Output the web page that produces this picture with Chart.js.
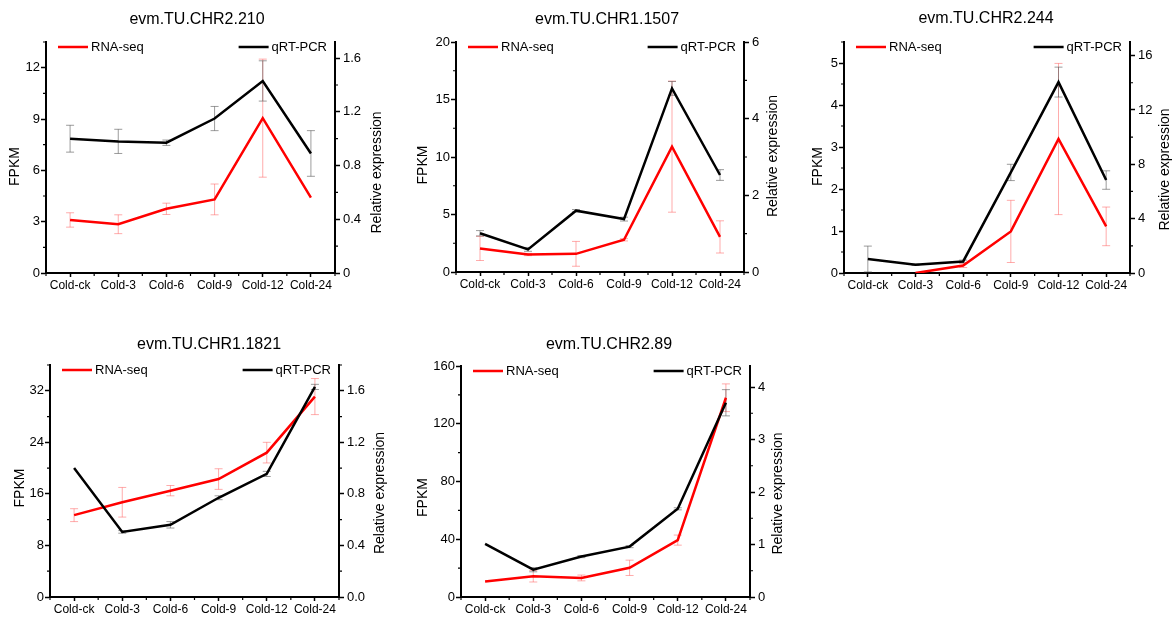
<!DOCTYPE html>
<html lang="en">
<head>
<meta charset="UTF-8" />
<title>RNA-seq vs qRT-PCR under cold stress</title>
<script src="https://cdn.jsdelivr.net/npm/chart.js"></script>
<style>
  body { margin: 0; background: #fff; }
  #wrap { position: relative; width: 1174px; height: 617px; overflow: hidden; }
  #wrap canvas { position: absolute; }
</style>
</head>
<body>
<div id="wrap"></div>
<script>
const timePoints = ['Cold-ck', 'Cold-3', 'Cold-6', 'Cold-9', 'Cold-12', 'Cold-24'];

// RNA-seq FPKM (mean and error) and qRT-PCR relative expression (mean and error)
const fpkm210 = [3.1, 2.85, 3.75, 4.3, 9.05, 4.4];
const fpkmErr210 = [0.42, 0.55, 0.33, 0.9, 3.45, 0];
const rel210 = [1.0, 0.98, 0.97, 1.15, 1.43, 0.89];
const relErr210 = [0.1, 0.09, 0.02, 0.09, 0.15, 0.17];

const fpkm1507 = [2.05, 1.52, 1.58, 2.8, 10.9, 3.05];
const fpkmErr1507 = [1.05, 0.1, 1.08, 0.1, 5.7, 1.4];
const rel1507 = [1.01, 0.59, 1.6, 1.38, 4.79, 2.53];
const relErr1507 = [0.07, 0.05, 0.03, 0.05, 0.18, 0.14];

const fpkm244 = [null, 0, 0.18, 0.99, 3.19, 1.11];
const fpkmErr244 = [0, 0, 0.05, 0.74, 1.8, 0.46];
const rel244 = [1.03, 0.61, 0.85, 7.4, 14.05, 6.84];
const relErr244 = [0.95, 0.05, 0.1, 0.6, 1.1, 0.68];

const fpkm1821 = [12.7, 14.7, 16.5, 18.3, 22.4, 31.1];
const fpkmErr1821 = [1.0, 2.3, 0.8, 1.6, 1.6, 2.8];
const rel1821 = [1.0, 0.505, 0.56, 0.77, 0.955, 1.63];
const relErr1821 = [0, 0.01, 0.025, 0.015, 0.02, 0.02];

const fpkm89 = [10.7, 14.4, 13.2, 20.2, 39.4, 138];
const fpkmErr89 = [0, 4, 2, 5.3, 3.5, 9.6];
const rel89 = [1.01, 0.52, 0.77, 0.96, 1.68, 3.7];
const relErr89 = [0, 0.04, 0.02, 0.02, 0.02, 0.25];

const panels = [
  { name: 'evm.TU.CHR2.210', rna: fpkm210, rnaErr: fpkmErr210, qrt: rel210, qrtErr: relErr210,
    leftMax: 13.5, leftStep: 3, rightMax: 1.72, rightStep: 0.4, rightFixed: null },
  { name: 'evm.TU.CHR1.1507', rna: fpkm1507, rnaErr: fpkmErr1507, qrt: rel1507, qrtErr: relErr1507,
    leftMax: 20, leftStep: 5, rightMax: 6, rightStep: 2, rightFixed: null },
  { name: 'evm.TU.CHR2.244', rna: fpkm244, rnaErr: fpkmErr244, qrt: rel244, qrtErr: relErr244,
    leftMax: 5.5, leftStep: 1, rightMax: 17, rightStep: 4, rightFixed: null },
  { name: 'evm.TU.CHR1.1821', rna: fpkm1821, rnaErr: fpkmErr1821, qrt: rel1821, qrtErr: relErr1821,
    leftMax: 36, leftStep: 8, rightMax: 1.8, rightStep: 0.4, rightFixed: 1 },
  { name: 'evm.TU.CHR2.89', rna: fpkm89, rnaErr: fpkmErr89, qrt: rel89, qrtErr: relErr89,
    leftMax: 160, leftStep: 40, rightMax: 4.4, rightStep: 1, rightFixed: null }
];

// plot box of each panel on the page, title centre, axis title offsets
const boxes = [
  { L: 46,  R: 335,  T: 42,  B: 273, tx: 197, ty: 20,  lOff: 31, rOff: 42, lDy: 9,  rDy: 15 },
  { L: 456, R: 744,  T: 42,  B: 272, tx: 607, ty: 20,  lOff: 33, rOff: 29, lDy: 8,  rDy: -1 },
  { L: 844, R: 1130, T: 42,  B: 273, tx: 986, ty: 19,  lOff: 26, rOff: 35, lDy: 9,  rDy: 12 },
  { L: 50,  R: 339,  T: 365, B: 597, tx: 209, ty: 345, lOff: 30, rOff: 41, lDy: 7,  rDy: 12 },
  { L: 461, R: 750,  T: 366, B: 597, tx: 609, ty: 345, lOff: 38, rOff: 28, lDy: 16, rDy: 12 }
];

Chart.defaults.font.family = "'Liberation Sans', Arial, sans-serif";
Chart.defaults.color = '#000';

const WL = 60, HX = 30, TOP = 42;

// error bars, minor ticks, inner legend and axis titles
const panelDecor = {
  id: 'panelDecor',
  beforeDatasetsDraw(chart) {
    const ctx = chart.ctx;
    const xs = chart.scales.x;
    chart.data.datasets.forEach(ds => {
      const ys = chart.scales[ds.yAxisID];
      ds.data.forEach((v, j) => {
        const e = ds.errors[j];
        if (v == null || !e) return;
        const x = xs.getPixelForValue(j);
        const yLo = ys.getPixelForValue(Math.max(0, v - e));
        const yHi = ys.getPixelForValue(v + e);
        ctx.save();
        ctx.strokeStyle = ds.errColor;
        ctx.lineWidth = 1;
        ctx.beginPath();
        ctx.moveTo(x, yLo); ctx.lineTo(x, yHi);
        ctx.moveTo(x - 4, yLo); ctx.lineTo(x + 4, yLo);
        ctx.moveTo(x - 4, yHi); ctx.lineTo(x + 4, yHi);
        ctx.stroke();
        ctx.restore();
      });
    });
  },
  afterDraw(chart, args, opts) {
    const ctx = chart.ctx;
    const a = chart.chartArea;
    const xs = chart.scales.x;
    ctx.save();
    ctx.strokeStyle = '#000';
    ctx.lineWidth = 1.2;
    ctx.beginPath();
    const n = timePoints.length;
    for (let j = 0; j <= n; j++) {
      let px;
      if (j === 0) px = a.left;
      else if (j === n) px = a.right;
      else px = (xs.getPixelForValue(j - 1) + xs.getPixelForValue(j)) / 2;
      ctx.moveTo(px, a.bottom); ctx.lineTo(px, a.bottom + 3);
    }
    ['y', 'y1'].forEach(id => {
      const s = chart.scales[id];
      const step = s.options.ticks.stepSize;
      for (let v = step / 2; v <= s.max + 1e-9; v += step) {
        const py = s.getPixelForValue(v);
        if (id === 'y') { ctx.moveTo(a.left - 3, py); ctx.lineTo(a.left, py); }
        else { ctx.moveTo(a.right, py); ctx.lineTo(a.right + 3, py); }
      }
    });
    ctx.stroke();

    // legend inside the plot
    const ly = a.top + 5;
    ctx.font = "13px 'Liberation Sans', Arial, sans-serif";
    ctx.textBaseline = 'middle';
    ctx.lineWidth = 2.5;
    const [d0, d1] = chart.data.datasets;
    ctx.strokeStyle = d0.borderColor;
    ctx.beginPath(); ctx.moveTo(a.left + 12, ly); ctx.lineTo(a.left + 42, ly); ctx.stroke();
    ctx.fillStyle = '#000';
    ctx.textAlign = 'left';
    ctx.fillText(d0.label, a.left + 45, ly);
    const w = ctx.measureText(d1.label).width;
    const tEnd = a.right - 8;
    ctx.strokeStyle = d1.borderColor;
    ctx.beginPath(); ctx.moveTo(tEnd - w - 33, ly); ctx.lineTo(tEnd - w - 3, ly); ctx.stroke();
    ctx.textAlign = 'right';
    ctx.fillText(d1.label, tEnd, ly);

    // axis titles, both reading bottom to top
    ctx.font = "14px 'Liberation Sans', Arial, sans-serif";
    ctx.textAlign = 'center';
    const mid = (a.top + a.bottom) / 2;
    [[a.left - opts.lOff, mid + opts.lDy, 'FPKM'], [a.right + opts.rOff, mid + opts.rDy, 'Relative expression']]
      .forEach(([x, y, t]) => {
        ctx.save();
        ctx.translate(x, y);
        ctx.rotate(-Math.PI / 2);
        ctx.fillText(t, 0, 0);
        ctx.restore();
      });
    ctx.restore();
  }
};

const wrap = document.getElementById('wrap');

function axisLine() {
  return { color: '#000', width: 2 };
}

function makePanel(p, box) {
  const left = box.L - WL;
  const wr = Math.round(2 * box.tx - box.L - box.R + WL);
  const width = box.R + wr - left;
  const top = box.T - TOP;
  const height = box.B + HX - top;
  const cv = document.createElement('canvas');
  cv.width = width;
  cv.height = height;
  cv.style.left = left + 'px';
  cv.style.top = top + 'px';
  wrap.appendChild(cv);
  const padTop = box.ty - top - 9.6;

  new Chart(cv, {
    type: 'line',
    data: {
      labels: timePoints,
      datasets: [
        { label: 'RNA-seq', data: p.rna, errors: p.rnaErr, yAxisID: 'y', order: 1,
          borderColor: '#ff0000', errColor: 'rgba(255,90,90,0.5)', borderWidth: 2.5, pointRadius: 0, tension: 0 },
        { label: 'qRT-PCR', data: p.qrt, errors: p.qrtErr, yAxisID: 'y1', order: 0,
          borderColor: '#000000', errColor: 'rgba(90,90,90,0.6)', borderWidth: 2.5, pointRadius: 0, tension: 0 }
      ]
    },
    options: {
      responsive: false,
      animation: false,
      events: [],
      plugins: {
        legend: { display: false },
        tooltip: { enabled: false },
        title: {
          display: true,
          text: p.name,
          color: '#000',
          font: { size: 16, weight: 'normal' },
          padding: { top: padTop, bottom: TOP - 19.2 - padTop }
        },
        panelDecor: { lOff: box.lOff, rOff: box.rOff, lDy: box.lDy, rDy: box.rDy }
      },
      scales: {
        x: {
          type: 'category',
          offset: true,
          border: axisLine(),
          grid: { drawOnChartArea: false, tickLength: 4, tickWidth: 1.5, color: '#000' },
          ticks: { font: { size: 12 }, color: '#000', padding: 1, maxRotation: 0, autoSkip: false },
          afterFit(s) { s.height = HX; }
        },
        y: {
          position: 'left',
          min: 0,
          max: p.leftMax,
          border: axisLine(),
          grid: { drawOnChartArea: false, tickLength: 5, tickWidth: 1.5, color: '#000' },
          ticks: { stepSize: p.leftStep, includeBounds: false, font: { size: 13 }, color: '#000', padding: 1 },
          afterFit(s) { s.width = WL; }
        },
        y1: {
          position: 'right',
          min: 0,
          max: p.rightMax,
          border: axisLine(),
          grid: { drawOnChartArea: false, tickLength: 5, tickWidth: 1.5, color: '#000' },
          ticks: {
            stepSize: p.rightStep, includeBounds: false, font: { size: 13 }, color: '#000', padding: 3,
            callback: v => p.rightFixed == null ? +v.toFixed(2) + '' : v.toFixed(p.rightFixed)
          },
          afterFit(s) { s.width = wr; }
        }
      }
    },
    plugins: [panelDecor]
  });
}

panels.forEach((p, i) => makePanel(p, boxes[i]));
</script>
</body>
</html>
